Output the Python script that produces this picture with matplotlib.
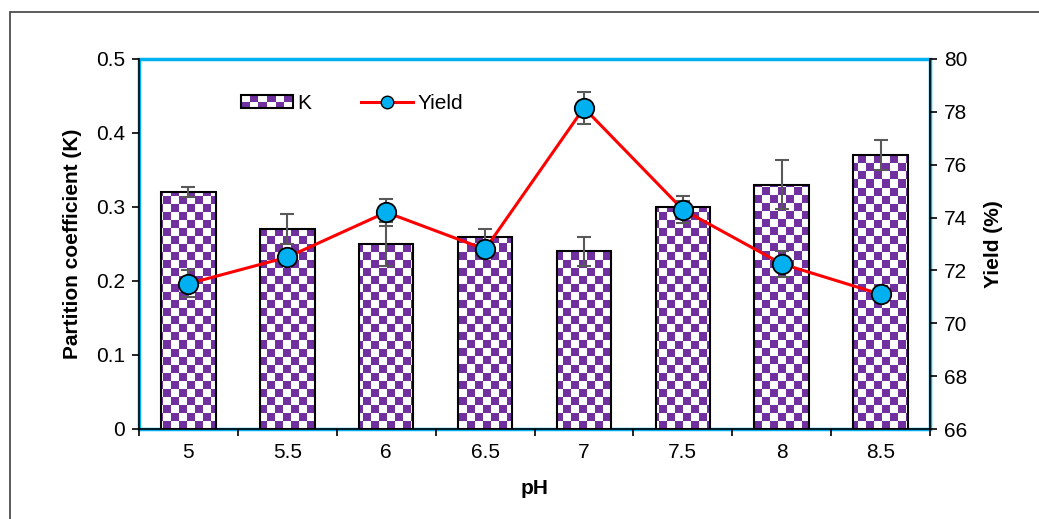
import numpy as np
import matplotlib
matplotlib.use("Agg")
import matplotlib.pyplot as plt
from matplotlib.colors import ListedColormap
from matplotlib.patches import Rectangle
from matplotlib.lines import Line2D
from matplotlib.legend_handler import HandlerBase

plt.rcParams['font.family'] = ['Liberation Sans', 'DejaVu Sans']

# Donnees
ph_labels = ['5', '5.5', '6', '6.5', '7', '7.5', '8', '8.5']
k_values = [0.32, 0.27, 0.25, 0.26, 0.24, 0.30, 0.33, 0.37]
k_err = [0.007, 0.02, 0.03, 0.01, 0.02, 0.008, 0.033, 0.02]
yield_values = [71.5, 72.5, 74.2, 72.8, 78.15, 74.3, 72.25, 71.1]
yield_err = [0.5, 0.3, 0.5, 0.3, 0.6, 0.5, 0.5, 0.3]

purple = '#7030A0'
cyan = '#00B0F0'
checker_cmap = ListedColormap(['white', purple])
square_px = 8
fs = 15


class CheckerHandler(HandlerBase):
    # petit rectangle en damier pour la legende
    def create_artists(self, legend, orig_handle, xdescent, ydescent,
                       width, height, fontsize, trans):
        arts = []
        nx, ny = 6, 2
        w, h = width / nx, height / ny
        x0, y0 = -xdescent, -ydescent
        arts.append(Rectangle((x0, y0), width, height, facecolor='white',
                              edgecolor='none', transform=trans))
        for i in range(nx):
            for j in range(ny):
                if (i + j) % 2 == 0:
                    arts.append(Rectangle((x0 + i * w, y0 + j * h), w, h,
                                          facecolor=purple, edgecolor='none',
                                          transform=trans))
        arts.append(Rectangle((x0, y0), width, height, facecolor='none',
                              edgecolor='black', lw=1.5, transform=trans))
        return arts


fig = plt.figure(figsize=(10.39, 5.19), dpi=100)
ax = fig.add_axes([139 / 1039, 90 / 519, 791 / 1039, 370 / 519])
ax2 = ax.twinx()

x = np.arange(len(ph_labels))
ax.set_xlim(-0.5, len(ph_labels) - 0.5)
ax.set_ylim(0, 0.5)
ax2.set_ylim(66, 80)

# barres K avec motif en damier
bars = ax.bar(x, k_values, width=0.55, facecolor='none', edgecolor='black',
              linewidth=1.5, zorder=3)
bb = ax.get_window_extent()
nx = int(round(bb.width / square_px))
ny = int(round(bb.height / square_px))
checker = np.add.outer(np.arange(ny), np.arange(nx)) % 2
for b in bars:
    im = ax.imshow(checker, cmap=checker_cmap, interpolation='nearest',
                   extent=(-0.5, len(ph_labels) - 0.5, 0, 0.5),
                   aspect='auto', zorder=2, origin='lower')
    im.set_clip_path(b)
ax.set_xlim(-0.5, len(ph_labels) - 0.5)
ax.set_ylim(0, 0.5)
ax.errorbar(x, k_values, yerr=k_err, fmt='none', ecolor='#595959',
            elinewidth=1.5, capsize=5, capthick=1.5, zorder=4)

# courbe du rendement
ax2.errorbar(x, yield_values, yerr=yield_err, fmt='none', ecolor='#595959',
             elinewidth=1.5, capsize=5, capthick=1.5, zorder=3)
ax2.plot(x, yield_values, color='red', lw=2.2, marker='o', markersize=14,
         markerfacecolor=cyan, markeredgecolor='black', markeredgewidth=1.3,
         zorder=4)

# cadre bleu de la zone de trace
ax.add_patch(Rectangle((0, 0), 1, 1, transform=ax.transAxes, fill=False,
                       edgecolor=cyan, lw=2.5, zorder=1, clip_on=False))
for a in (ax, ax2):
    a.spines['top'].set_visible(False)
    for s in ('left', 'right', 'bottom'):
        a.spines[s].set_linewidth(1.2)
ax.spines['right'].set_visible(False)
ax2.spines['left'].set_visible(False)
ax2.spines['bottom'].set_visible(False)

# graduations
ax.set_xticks(np.arange(-0.5, len(ph_labels), 1.0))
ax.set_xticklabels([])
ax.set_xticks(x, minor=True)
ax.set_xticklabels(ph_labels, minor=True, fontsize=fs)
ax.tick_params(axis='x', which='major', direction='out', length=5, width=1.2)
ax.tick_params(axis='x', which='minor', length=0, pad=10)
ax.set_yticks(np.arange(0, 0.51, 0.1))
ax.set_yticklabels(['0', '0.1', '0.2', '0.3', '0.4', '0.5'])
ax.tick_params(axis='y', direction='out', length=5, width=1.2, labelsize=fs,
               pad=5)
ax2.set_yticks(np.arange(66, 81, 2))
ax2.tick_params(axis='y', direction='out', length=5, width=1.2, labelsize=fs,
                pad=5)

ax.set_xlabel('pH', fontsize=fs, fontweight='bold', labelpad=12)
ax.set_ylabel('Partition coefficient (K)', fontsize=fs, fontweight='bold',
              labelpad=10)
ax2.set_ylabel('Yield (%)', fontsize=fs, fontweight='bold', labelpad=12)

k_handle = Rectangle((0, 0), 1, 1)
y_handle = Line2D([], [], color='red', lw=2.2, marker='o', markersize=9,
                  markerfacecolor=cyan, markeredgecolor='black')
ax2.legend([k_handle, y_handle], ['K', 'Yield'],
           handler_map={Rectangle: CheckerHandler()},
           loc='center left', bbox_to_anchor=(0.129, 0.88), ncol=2,
           frameon=False, fontsize=fs, handlelength=2.5, handleheight=0.55,
           handletextpad=0.2, columnspacing=2.4, borderpad=0,
           borderaxespad=0)

# cadre gris exterieur
fig.add_artist(Rectangle((10 / 1039, -0.2), 1.2, 1.2 - 12 / 519,
                         transform=fig.transFigure, fill=False,
                         edgecolor='#404040', lw=1.2))

fig.savefig('out.png', dpi=100)
